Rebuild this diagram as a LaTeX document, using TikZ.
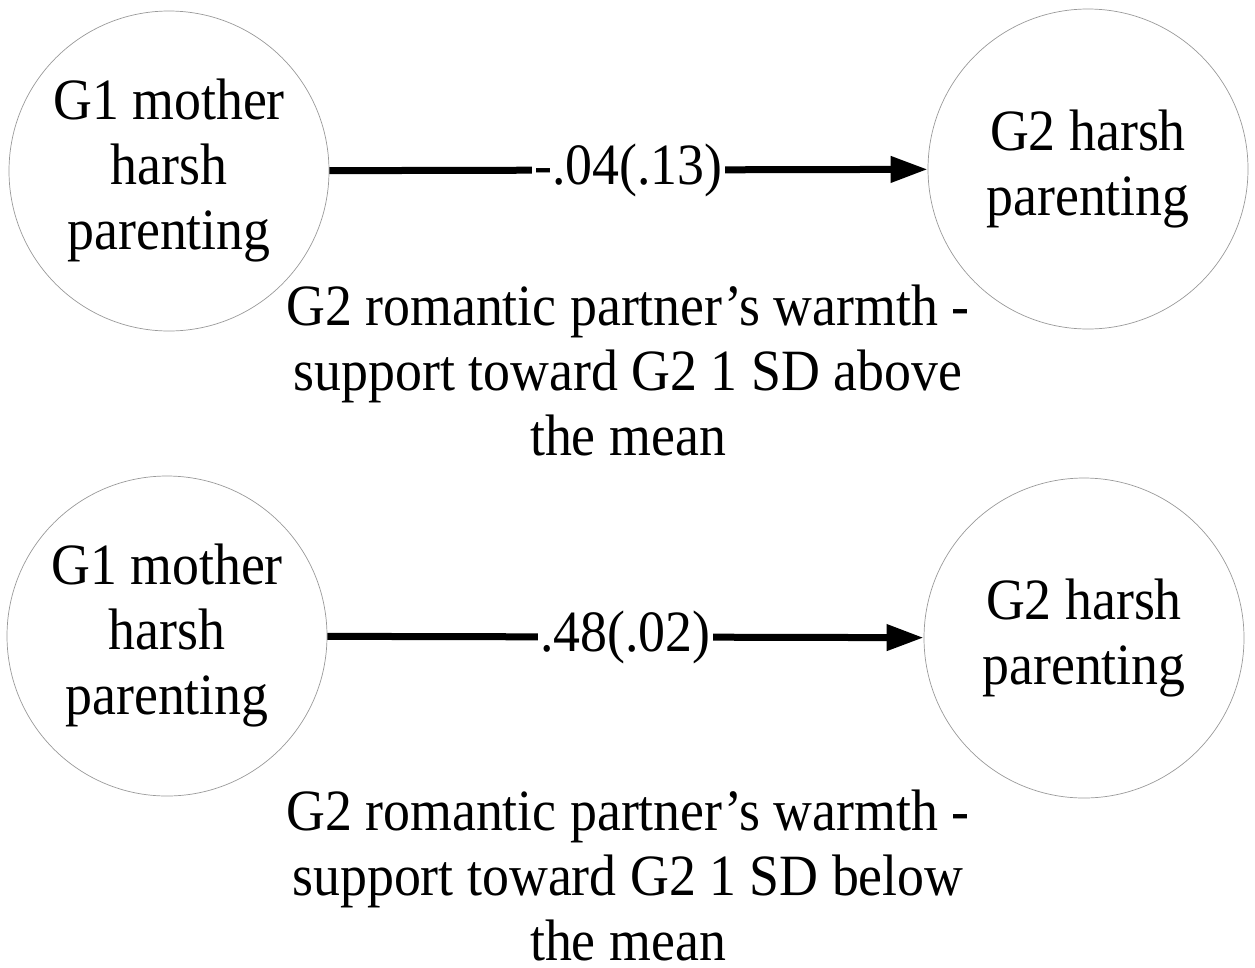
\documentclass[tikz,border=0pt]{standalone}
\usepackage{fontspec}
\setmainfont{Liberation Serif}[FakeStretch=0.92]
\usetikzlibrary{arrows.meta}

\tikzset{
    var/.style={circle, draw=gray!80, line width=0.7pt, minimum size=320pt, inner sep=0pt,
        align=center, font=\fontsize{58.5}{65}\selectfont},
    effect/.style={line width=7pt, -{Triangle[length=37pt,width=25pt]}},
    coef/.style={fill=white, inner sep=2pt, font=\fontsize{58.5}{65}\selectfont},
    moder/.style={align=center, font=\fontsize{58.5}{65}\selectfont}
}

\begin{document}
\begin{tikzpicture}[x=1pt,y=-1pt]
    \useasboundingbox (0,0) rectangle (1255,967);

    % 1 SD above the mean
    \node[var] (g1above) at (169,171) {G1 mother\\harsh\\parenting};
    \node[var] (g2above) at (1088,169) {G2 harsh\\parenting};
    \draw[effect] (g1above) -- node[coef] (cabove) {-.04(.13)} (g2above);
    \node[moder] (wabove) at (628,370) {G2 romantic partner’s warmth -\\support toward G2 1 SD above\\the mean};

    % 1 SD below the mean
    \node[var] (g1below) at (167,636) {G1 mother\\harsh\\parenting};
    \node[var] (g2below) at (1084,638) {G2 harsh\\parenting};
    \draw[effect] (g1below) -- node[coef] (cbelow) {.48(.02)} (g2below);
    \node[moder] (wbelow) at (628,875) {G2 romantic partner’s warmth -\\support toward G2 1 SD below\\the mean};
\end{tikzpicture}
\end{document}
